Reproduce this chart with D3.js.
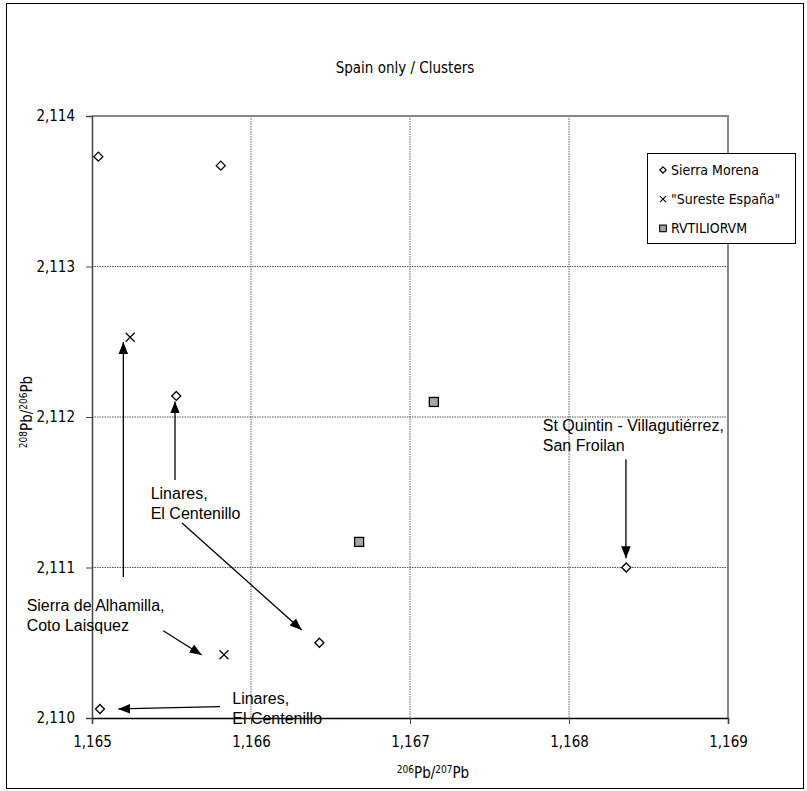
<!DOCTYPE html>
<html>
<head>
<meta charset="utf-8">
<script src="https://cdn.jsdelivr.net/npm/d3@7"></script>
<style>
  body { margin: 0; background: #fff; }
  text { font-family: "DejaVu Sans Condensed", "DejaVu Sans", sans-serif; font-stretch: condensed; }
  .note { font-family: "Liberation Sans", Arial, sans-serif; font-stretch: normal; font-size: 16px; }
</style>
</head>
<body>
<div id="chart"></div>
<script>
// data
const sierraMorena = [
    [1.16504, 2.11373], [1.16581, 2.11367], [1.16553, 2.11214],
    [1.16643, 2.11050], [1.16836, 2.11100], [1.16505, 2.11006]
];
const suresteEspana = [[1.16524, 2.11253], [1.16583, 2.11042]];
const rvtiliorvm = [[1.16715, 2.11210], [1.16668, 2.11117]];

const xTicks = [1.165, 1.166, 1.167, 1.168, 1.169];
const yTicks = [2.110, 2.111, 2.112, 2.113, 2.114];

// annotations in data units: text anchor + arrows [x1, y1, x2, y2]
const notes = [
    { lines: ["Linares,", "El Centenillo"], x: 1.165369, y: 2.111495,
      arrows: [[1.165522, 2.111582, 1.165522, 2.112103], [1.165566, 2.111296, 1.166319, 2.110585]] },
    { lines: ["Sierra de Alhamilla,", "Coto Laisquez"], x: 1.164589, y: 2.110751,
      arrows: [[1.165197, 2.110937, 1.165197, 2.112498], [1.165448, 2.110580, 1.165690, 2.110419]] },
    { lines: ["Linares,", "El Centenillo"], x: 1.165882, y: 2.110131,
      arrows: [[1.165805, 2.110075, 1.165165, 2.110060]] },
    { lines: ["St Quintin - Villagutiérrez,", "San Froilan"], x: 1.167835, y: 2.111947,
      arrows: [[1.168358, 2.111719, 1.168358, 2.111061]] }
];

const width = 807, height = 791;
const plot = { left: 92, right: 728, top: 116, bottom: 718 };

const svg = d3.select("#chart")
    .append("svg")
    .attr("width", width)
    .attr("height", height);

// outer frame
svg.append("rect")
    .attr("x", 6.5).attr("y", 3.5)
    .attr("width", 797).attr("height", 785)
    .attr("fill", "none")
    .attr("stroke", "#000")
    .attr("stroke-width", 1);

const x = d3.scaleLinear().domain([1.165, 1.169]).range([plot.left, plot.right]);
const y = d3.scaleLinear().domain([2.110, 2.114]).range([plot.bottom, plot.top]);

const fmt = d => d3.format(".3f")(d).replace(".", ",");

// grid
svg.append("g")
    .selectAll("line")
    .data(xTicks.slice(1, -1))
    .join("line")
    .attr("x1", d => x(d)).attr("x2", d => x(d))
    .attr("y1", plot.top).attr("y2", plot.bottom)
    .attr("stroke", "#888")
    .attr("stroke-width", 1.3)
    .attr("stroke-dasharray", "1.5,1");

svg.append("g")
    .selectAll("line")
    .data(yTicks.slice(1, -1))
    .join("line")
    .attr("x1", plot.left).attr("x2", plot.right)
    .attr("y1", d => y(d)).attr("y2", d => y(d))
    .attr("stroke", "#555")
    .attr("stroke-width", 1.2)
    .attr("stroke-dasharray", "1.5,1");

// top and right plot border
svg.append("path")
    .attr("d", `M${plot.left},${plot.top}H${plot.right}V${plot.bottom}`)
    .attr("fill", "none")
    .attr("stroke", "#888")
    .attr("stroke-width", 2);

// axes
const xAxis = svg.append("g")
    .attr("transform", `translate(0,${plot.bottom})`)
    .call(d3.axisBottom(x).tickValues(xTicks).tickFormat(fmt).tickSize(6).tickPadding(12));
const yAxis = svg.append("g")
    .attr("transform", `translate(${plot.left},0)`)
    .call(d3.axisLeft(y).tickValues(yTicks).tickFormat(fmt).tickSize(6).tickPadding(11));

xAxis.select(".domain").attr("stroke", "#000").attr("stroke-width", 1.5);
yAxis.select(".domain").attr("stroke", "#444").attr("stroke-width", 1.5);
[xAxis, yAxis].forEach(a => {
    a.selectAll(".tick line").attr("stroke", "#444");
    a.selectAll("text")
        .attr("fill", "#000")
        .style("font-size", "15px")
        .style("font-family", '"DejaVu Sans Condensed", "DejaVu Sans", sans-serif');
});

// title
svg.append("text")
    .attr("x", 405)
    .attr("y", 73)
    .attr("text-anchor", "middle")
    .style("font-size", "15px")
    .text("Spain only / Clusters");

// axis titles
const xTitle = svg.append("text")
    .attr("x", 433)
    .attr("y", 778)
    .attr("text-anchor", "middle")
    .style("font-size", "15px");
xTitle.append("tspan").attr("font-size", "10px").attr("dy", "-5").text("206");
xTitle.append("tspan").attr("dy", "5").text("Pb/");
xTitle.append("tspan").attr("font-size", "10px").attr("dy", "-5").text("207");
xTitle.append("tspan").attr("dy", "5").text("Pb");

const yTitle = svg.append("text")
    .attr("transform", "translate(32,412) rotate(-90)")
    .attr("text-anchor", "middle")
    .style("font-size", "15px");
yTitle.append("tspan").attr("font-size", "10px").attr("dy", "-5").text("208");
yTitle.append("tspan").attr("dy", "5").text("Pb/");
yTitle.append("tspan").attr("font-size", "10px").attr("dy", "-5").text("206");
yTitle.append("tspan").attr("dy", "5").text("Pb");

// markers
const diamond = (cx, cy, r) => `M${cx},${cy - r}L${cx + r},${cy}L${cx},${cy + r}L${cx - r},${cy}Z`;
const cross = (cx, cy, r) => `M${cx - r},${cy - r}L${cx + r},${cy + r}M${cx - r},${cy + r}L${cx + r},${cy - r}`;

svg.append("g")
    .selectAll("path")
    .data(sierraMorena)
    .join("path")
    .attr("d", d => diamond(x(d[0]), y(d[1]), 4.5))
    .attr("fill", "#fff")
    .attr("stroke", "#000")
    .attr("stroke-width", 1.3);

svg.append("g")
    .selectAll("path")
    .data(suresteEspana)
    .join("path")
    .attr("d", d => cross(x(d[0]), y(d[1]), 4.5))
    .attr("stroke", "#000")
    .attr("stroke-width", 1.2);

svg.append("g")
    .selectAll("rect")
    .data(rvtiliorvm)
    .join("rect")
    .attr("x", d => x(d[0]) - 4.5)
    .attr("y", d => y(d[1]) - 4.5)
    .attr("width", 9).attr("height", 9)
    .attr("fill", "#a6a6a6")
    .attr("stroke", "#000")
    .attr("stroke-width", 1.3);

// annotations
svg.append("defs").append("marker")
    .attr("id", "head")
    .attr("viewBox", "0 0 10 10")
    .attr("refX", 10).attr("refY", 5)
    .attr("markerWidth", 12).attr("markerHeight", 12)
    .attr("markerUnits", "userSpaceOnUse")
    .attr("orient", "auto")
    .append("path")
    .attr("d", "M0,1L10,5L0,9Z")
    .attr("fill", "#000");

notes.forEach(n => {
    const t = svg.append("text")
        .attr("class", "note")
        .attr("x", x(n.x))
        .attr("y", y(n.y))
        .attr("fill", "#000");
    n.lines.forEach((l, i) => {
        t.append("tspan")
            .attr("x", x(n.x))
            .attr("dy", i === 0 ? "0.36em" : "20")
            .text(l);
    });
    n.arrows.forEach(a => {
        svg.append("line")
            .attr("x1", x(a[0])).attr("y1", y(a[1]))
            .attr("x2", x(a[2])).attr("y2", y(a[3]))
            .attr("stroke", "#000")
            .attr("stroke-width", 1.3)
            .attr("marker-end", "url(#head)");
    });
});

// legend
const legendItems = ["Sierra Morena", "\"Sureste España\"", "RVTILIORVM"];
const legend = svg.append("g").attr("transform", "translate(647,153)");
legend.append("rect")
    .attr("x", 0.5).attr("y", 0.5)
    .attr("width", 148).attr("height", 90)
    .attr("fill", "#fff")
    .attr("stroke", "#000");

legendItems.forEach((name, i) => {
    const cy = 17 + i * 29.2, cx = 16;
    if (i === 0) {
        legend.append("path").attr("d", diamond(cx, cy, 3.2))
            .attr("fill", "#fff").attr("stroke", "#000").attr("stroke-width", 1.2);
    } else if (i === 1) {
        legend.append("path").attr("d", cross(cx, cy, 3))
            .attr("stroke", "#000").attr("stroke-width", 1.1);
    } else {
        legend.append("rect").attr("x", cx - 3.3).attr("y", cy - 3.3)
            .attr("width", 6.6).attr("height", 6.6)
            .attr("fill", "#a6a6a6").attr("stroke", "#000").attr("stroke-width", 1.1);
    }
    legend.append("text")
        .attr("x", 24)
        .attr("y", cy)
        .attr("dy", "0.36em")
        .style("font-size", "14px")
        .text(name);
});
</script>
</body>
</html>
